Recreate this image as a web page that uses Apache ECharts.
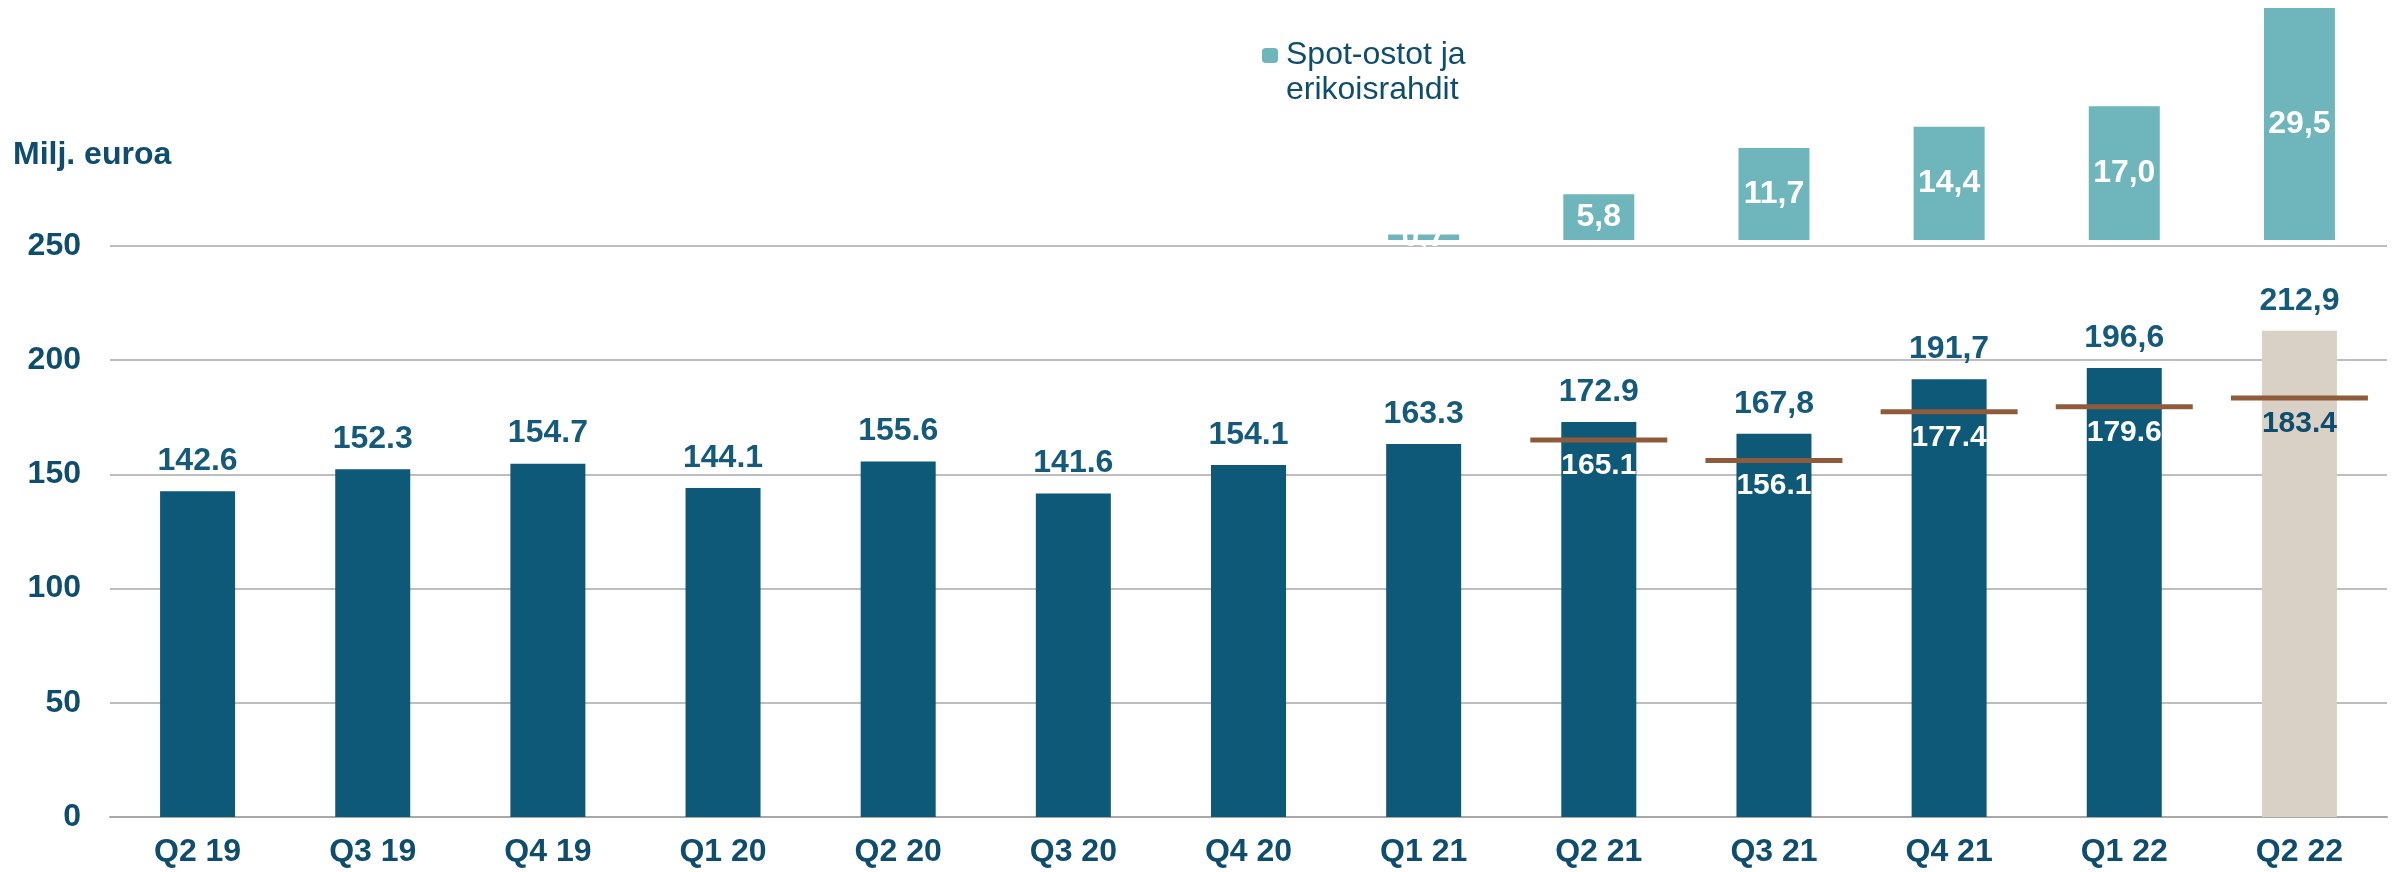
<!DOCTYPE html>
<html>
<head>
<meta charset="utf-8">
<script src="https://cdn.jsdelivr.net/npm/echarts@6/dist/echarts.min.js"></script>
<style>
  html, body { margin: 0; padding: 0; background: #ffffff; }
  #chart { width: 2394px; height: 872px; }
</style>
</head>
<body>
<div id="chart"></div>
<script>
// ---- Data ----
const categories = ['Q2 19', 'Q3 19', 'Q4 19', 'Q1 20', 'Q2 20', 'Q3 20', 'Q4 20', 'Q1 21', 'Q2 21', 'Q3 21', 'Q4 21', 'Q1 22', 'Q2 22'];
const revenue = [142.6, 152.3, 154.7, 144.1, 155.6, 141.6, 154.1, 163.3, 172.9, 167.8, 191.7, 196.6, 212.9];
const revenueLabels = ['142.6', '152.3', '154.7', '144.1', '155.6', '141.6', '154.1', '163.3', '172.9', '167,8', '191,7', '196,6', '212,9'];
const spot = [null, null, null, null, null, null, null, 0.7, 5.8, 11.7, 14.4, 17.0, 29.5];
const spotLabels = ['', '', '', '', '', '', '', '0,7', '5,8', '11,7', '14,4', '17,0', '29,5'];
const comparison = [null, null, null, null, null, null, null, null, 165.1, 156.1, 177.4, 179.6, 183.4];
const comparisonLabels = ['', '', '', '', '', '', '', '', '165.1', '156.1', '177.4', '179.6', '183.4'];
const yTicks = { min: 0, max: 250, interval: 50 };
const spotAxis = { min: 0, max: 30 };
const yTitle = 'Milj. euroa';
const spotName = 'Spot-ostot ja\nerikoisrahdit';

// ---- Styles ----
const FONT = '"Liberation Sans", Arial, sans-serif';
const DARK = '#0f4d6e';
const LABEL = '#155a7b';
const BAR = '#0f5978';
const BEIGE = '#d9d1c5';
const SPOT = '#6eb5bc';
const BROWN = '#8f5b3a';
const GRID = '#a8a8a8';
const last = categories.length - 1;

const chart = echarts.init(document.getElementById('chart'), null, { renderer: 'canvas' });

const comparisonData = comparison.map(function (v, i) {
  if (v === null) return null;
  return { value: v, label: { color: i === last ? DARK : '#ffffff' } };
});

const option = {
  backgroundColor: '#ffffff',
  animation: false,
  title: {
    text: yTitle,
    left: 13,
    top: 139,
    padding: 0,
    textStyle: { fontFamily: FONT, fontSize: 32, fontWeight: 'bold', color: DARK }
  },
  legend: {
    data: [spotName],
    left: 1262,
    top: 3,
    padding: 0,
    itemWidth: 16,
    itemHeight: 15,
    formatter: function (name) { return '\n' + name; },
    textStyle: { fontFamily: FONT, fontSize: 32, color: DARK, lineHeight: 35, padding: [0, 0, 0, 3] }
  },
  grid: [
    { left: 110, top: 246, width: 2277, height: 571, containLabel: false },
    { left: 110, top: 4, width: 2277, height: 236, containLabel: false }
  ],
  xAxis: [
    {
      type: 'category',
      gridIndex: 0,
      data: categories,
      axisTick: { show: false },
      axisLine: { show: true, lineStyle: { color: GRID, width: 2 } },
      axisLabel: { margin: 19, fontFamily: FONT, fontSize: 32, fontWeight: 'bold', color: DARK }
    },
    {
      type: 'category',
      gridIndex: 1,
      data: categories,
      show: false
    }
  ],
  yAxis: [
    {
      type: 'value',
      gridIndex: 0,
      min: yTicks.min,
      max: yTicks.max,
      interval: yTicks.interval,
      axisLine: { show: false },
      axisTick: { show: false },
      splitLine: { show: true, lineStyle: { color: GRID, width: 1.5 } },
      axisLabel: { margin: 29, fontFamily: FONT, fontSize: 32, fontWeight: 'bold', color: DARK }
    },
    {
      type: 'value',
      gridIndex: 1,
      min: spotAxis.min,
      max: spotAxis.max,
      show: false,
      splitLine: { show: false }
    }
  ],
  series: [
    {
      name: 'Liikevaihto',
      type: 'bar',
      xAxisIndex: 0,
      yAxisIndex: 0,
      data: revenue,
      barWidth: 75,
      itemStyle: {
        color: function (p) { return p.dataIndex === last ? BEIGE : BAR; }
      },
      label: {
        show: true,
        position: 'top',
        distance: 14,
        fontFamily: FONT,
        fontSize: 32,
        fontWeight: 'bold',
        color: LABEL,
        formatter: function (p) { return revenueLabels[p.dataIndex]; }
      },
      z: 2
    },
    {
      name: 'Vertailu',
      type: 'scatter',
      xAxisIndex: 0,
      yAxisIndex: 0,
      data: comparisonData,
      symbol: 'rect',
      symbolSize: [137, 5],
      itemStyle: { color: BROWN, opacity: 1 },
      label: {
        show: true,
        position: 'bottom',
        distance: 8,
        fontFamily: FONT,
        fontSize: 30,
        fontWeight: 'bold',
        color: '#ffffff',
        formatter: function (p) { return comparisonLabels[p.dataIndex]; }
      },
      z: 5
    },
    {
      name: spotName,
      type: 'bar',
      xAxisIndex: 1,
      yAxisIndex: 1,
      data: spot,
      barWidth: 71,
      itemStyle: { color: SPOT },
      label: {
        show: true,
        position: 'inside',
        fontFamily: FONT,
        fontSize: 32,
        fontWeight: 'bold',
        color: '#ffffff',
        formatter: function (p) { return spotLabels[p.dataIndex]; }
      }
    }
  ]
};

chart.setOption(option);
</script>
</body>
</html>
